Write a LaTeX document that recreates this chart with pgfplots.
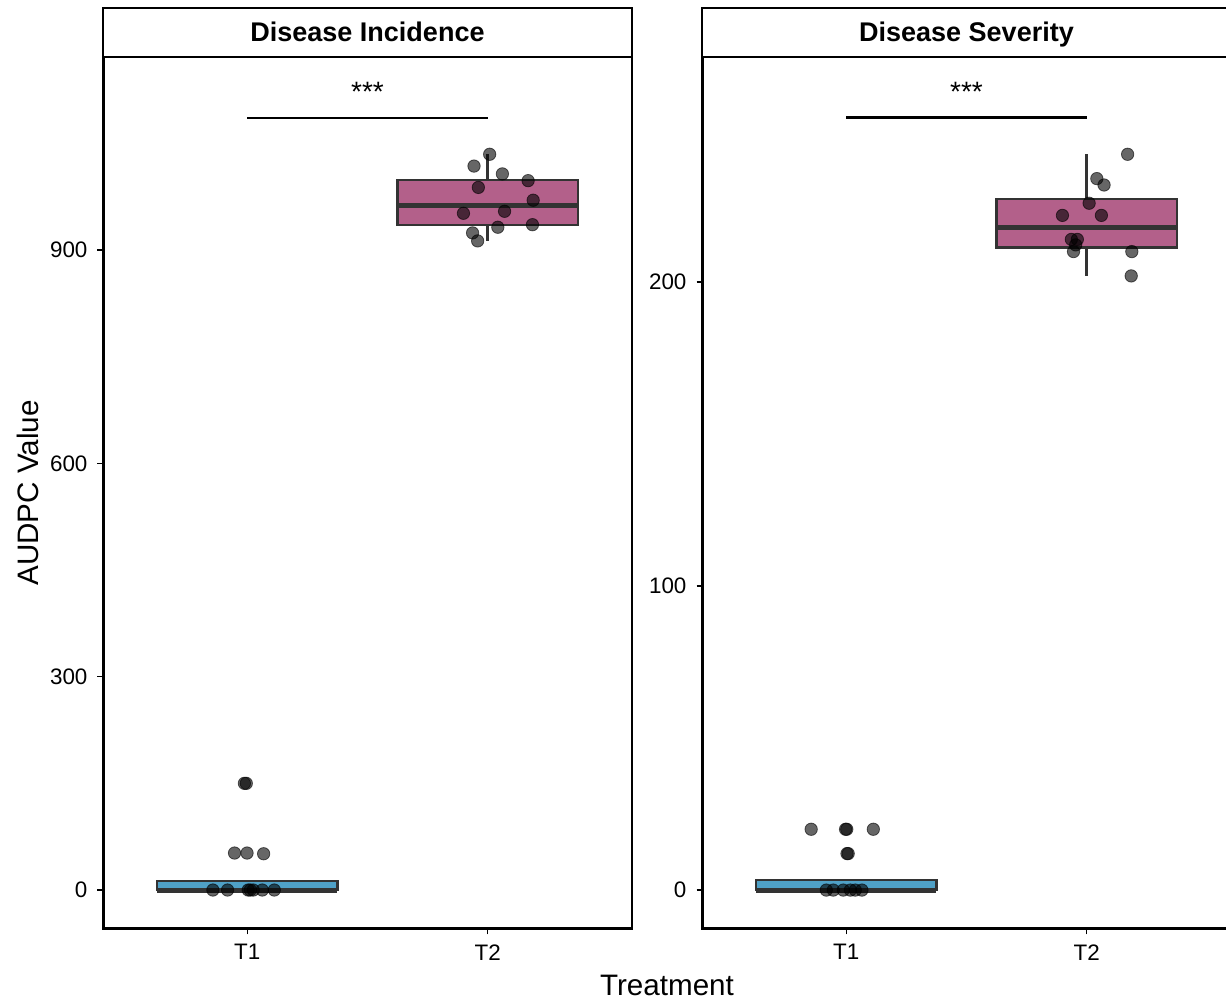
\documentclass[border=0pt]{standalone}
\usepackage{fontspec}
\setmainfont{Liberation Sans}
\usepackage{pgfplots}
\pgfplotsset{compat=1.18}
\definecolor{tOne}{HTML}{4FA1C7}
\definecolor{tTwo}{HTML}{B3608A}
\definecolor{edge}{HTML}{333333}

% 1 px of the reference = 0.5pt
\pgfplotsset{
  facet/.style={
    scale only axis, width=264.5pt, height=436pt,
    xmin=0.4, xmax=2.6,
    xtick={1,2}, xticklabels={T1,T2},
    tick align=outside, tick pos=left,
    major tick length=2.75pt,
    every tick/.style={black, line width=0.7pt},
    axis line style={line width=0.6pt},
    tick label style={font=\fontsize{11.2}{12}\selectfont, text=black},
    yticklabel style={xshift=-1.5pt},
    xticklabel style={yshift=-1.5pt},
    /pgf/number format/assume math mode=true,
    clip=false,
    after end axis/.code={
      \draw[line width=1.5pt] (rel axis cs:0,1) -- (rel axis cs:0,0) -- (rel axis cs:1,0);
      \draw[line width=0.6pt, fill=white] (rel axis cs:0,1) rectangle ([yshift=24.5pt]rel axis cs:1,1);
      \node[font=\fontsize{13.5}{15}\selectfont\bfseries, anchor=base, yshift=7.6pt] at (rel axis cs:0.5,1) {#1};
    },
  },
  bxfill/.style={draw=edge, fill=#1, line width=1.3pt, mark=none},
  bxline/.style={draw=edge, line width=1.4pt, mark=none},
  bxmed/.style={draw=edge, line width=2.5pt, mark=none},
  pts/.style={only marks, mark=*, mark size=3.1pt, black, fill=black, opacity=0.6},
  sig/.style={draw=black, line width=1.4pt, mark=none},
}

\begin{document}
\begin{tikzpicture}
\useasboundingbox (0,0) rectangle (613pt,500.5pt);

% ---- Disease Incidence ----
\begin{axis}[facet={Disease Incidence}, at={(51.5pt,36pt)}, anchor=south west,
    ymin=-54.8, ymax=1171.4, ytick={0,300,600,900}]
% T1: q1=0 med=0 q3=12.7
\addplot[bxfill=tOne] coordinates {(0.625,0) (1.375,0) (1.375,12.7) (0.625,12.7)} -- cycle;
\addplot[bxmed] coordinates {(0.625,0) (1.375,0)};
% T2: whiskers 912.8 / 1034.6, q1=935.2 med=961.9 q3=998.4
\addplot[bxline] coordinates {(2,998.4) (2,1034.6)};
\addplot[bxline] coordinates {(2,935.2) (2,912.8)};
\addplot[bxfill=tTwo] coordinates {(1.625,935.2) (2.375,935.2) (2.375,998.4) (1.625,998.4)} -- cycle;
\addplot[bxmed] coordinates {(1.625,961.9) (2.375,961.9)};
\addplot[pts] coordinates {
  (0.988,150) (0.996,150)
  (0.947,52) (0.999,52) (1.068,51)
  (0.857,0) (0.918,0) (1.004,0) (1.0125,0) (1.025,0) (1.0625,0) (1.1125,0)
  (2.008,1034.6) (1.943,1018) (2.061,1007) (2.168,997.5) (1.961,988) (2.189,970)
  (1.899,951.6) (2.070,954.4) (2.042,932) (2.186,935.6) (1.937,924) (1.958,912.8)
};
\addplot[sig] coordinates {(1,1085.6) (2,1085.6)};
\node[font=\fontsize{14}{15}\selectfont] at (axis cs:1.5,1122) {***};
\end{axis}

% ---- Disease Severity ----
\begin{axis}[facet={Disease Severity}, at={(351pt,36pt)}, anchor=south west,
    ymin=-12.8, ymax=274, ytick={0,100,200}]
\addplot[bxfill=tOne] coordinates {(0.625,0) (1.375,0) (1.375,3.3) (0.625,3.3)} -- cycle;
\addplot[bxmed] coordinates {(0.625,0) (1.375,0)};
\addplot[bxline] coordinates {(2,227.3) (2,242)};
\addplot[bxline] coordinates {(2,211.4) (2,202)};
\addplot[bxfill=tTwo] coordinates {(1.625,211.4) (2.375,211.4) (2.375,227.3) (1.625,227.3)} -- cycle;
\addplot[bxmed] coordinates {(1.625,217.9) (2.375,217.9)};
\addplot[pts] coordinates {
  (0.854,20) (0.997,20) (1.002,20) (1.1125,20)
  (1.003,12) (1.008,12)
  (0.917,0) (0.946,0) (0.9875,0) (1.017,0) (1.0375,0) (1.065,0)
  (2.170,242) (2.042,234) (2.072,231.9) (2.010,225.9) (1.899,221.9) (2.061,221.9)
  (1.936,214) (1.961,214) (1.954,212.2) (1.945,210) (2.1875,210) (2.185,202)
};
\addplot[sig] coordinates {(1,254) (2,254)};
\node[font=\fontsize{14}{15}\selectfont] at (axis cs:1.5,262.5) {***};
\end{axis}

\node[font=\fontsize{14.8}{16}\selectfont] at (333.5pt,8pt) {Treatment};
\node[font=\fontsize{14.8}{16}\selectfont, rotate=90] at (14pt,254pt) {AUDPC Value};
\end{tikzpicture}
\end{document}
